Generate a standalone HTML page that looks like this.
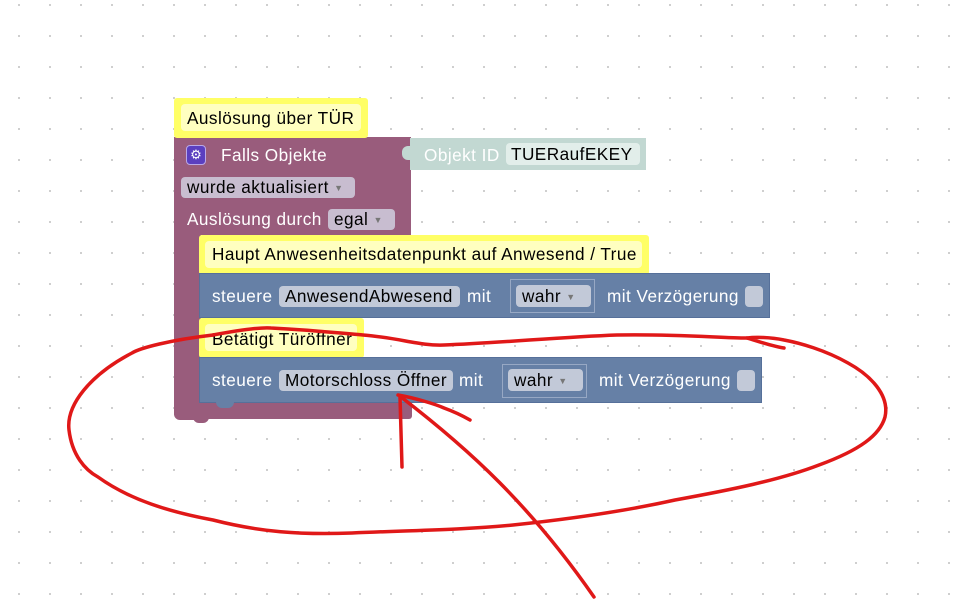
<!DOCTYPE html>
<html><head><meta charset="utf-8"><style>
html,body{margin:0;padding:0;width:978px;height:601px;overflow:hidden;background:#fff;font-family:"Liberation Sans",sans-serif;}
.a{position:absolute;box-sizing:border-box;}
.t{position:absolute;white-space:nowrap;font-size:17.2px;line-height:21px;letter-spacing:0.45px;}
.cm{background:#ffff66;border-radius:3px;}
.ci{background:#ffffc0;border-radius:4px;}
.pur{background:#995c7c;}
.blu{background:#6680a6;border:1px solid #56709a;}
.fld{background:#c8bdd0;border-radius:4px;color:#000;}
.bf{background:#c2c9d8;border-radius:4px;color:#000;}
.dd{font-size:9px;color:#777;vertical-align:2px;}
</style></head><body>
<svg class="a" style="left:0;top:0" width="978" height="601">
<defs><pattern id="g" x="0" y="0" width="31" height="31" patternUnits="userSpaceOnUse"><rect x="18" y="4" width="2" height="2" fill="#cfcfcf"/></pattern></defs>
<rect width="978" height="601" fill="url(#g)"/>
</svg>

<!-- purple block -->
<div class="a pur" style="left:174px;top:137px;width:237px;height:98px;"></div>
<div class="a pur" style="left:174px;top:230px;width:27px;height:190px;border-radius:0 0 0 6px;"></div>
<div class="a pur" style="left:174px;top:403px;width:238px;height:16px;border-radius:0 0 3px 6px;"></div>
<div class="a pur" style="left:193px;top:416px;width:16px;height:7px;border-radius:0 0 6px 6px;"></div>
<div class="a" style="left:186px;top:145px;width:20px;height:20px;background:#5b3fc0;border:1px solid #b9a8e8;border-radius:4px;color:#fff;font-size:13px;line-height:18px;text-align:center;">⚙</div>
<div class="t" style="left:221px;top:145px;color:#fff;">Falls Objekte</div>
<div class="a fld" style="left:181px;top:177px;width:174px;height:21px;"></div>
<div class="t" style="left:187px;top:177px;">wurde aktualisiert <span class="dd">▼</span></div>
<div class="t" style="left:187px;top:209px;color:#fff;">Auslösung durch</div>
<div class="a fld" style="left:328px;top:209px;width:67px;height:21px;"></div>
<div class="t" style="left:334px;top:209px;">egal <span class="dd">▼</span></div>

<!-- object id -->
<div class="a" style="left:410px;top:138px;width:236px;height:32px;background:#c2d8d2;"></div>
<div class="a" style="left:402px;top:146px;width:10px;height:14px;background:#c2d8d2;border-radius:6px 0 0 6px;"></div>
<div class="t" style="left:424px;top:145px;color:#fff;">Objekt ID</div>
<div class="a" style="left:506px;top:143px;width:134px;height:22px;background:#e2eeea;border-radius:4px;"></div>
<div class="t" style="left:511px;top:144px;">TUERaufEKEY</div>

<!-- comment 1 -->
<div class="a cm" style="left:174px;top:98px;width:194px;height:40px;"></div>
<div class="a ci" style="left:181px;top:104px;width:180px;height:27px;"></div>
<div class="t" style="left:187px;top:108px;">Auslösung über TÜR</div>

<!-- comment 2 -->
<div class="a cm" style="left:199px;top:235px;width:450px;height:40px;"></div>
<div class="a ci" style="left:205px;top:241px;width:437px;height:27px;"></div>
<div class="t" style="left:212px;top:244px;">Haupt Anwesenheitsdatenpunkt auf Anwesend / True</div>

<!-- blue 1 -->
<div class="a blu" style="left:199px;top:273px;width:571px;height:45px;"></div>
<div class="t" style="left:212px;top:286px;color:#fff;">steuere</div>
<div class="a bf" style="left:279px;top:286px;width:181px;height:21px;"></div>
<div class="t" style="left:285px;top:286px;">AnwesendAbwesend</div>
<div class="t" style="left:467px;top:286px;color:#fff;">mit</div>
<div class="a" style="left:510px;top:279px;width:85px;height:34px;border:1px solid #97a8c4;"></div>
<div class="a bf" style="left:516px;top:285px;width:75px;height:22px;"></div>
<div class="t" style="left:522px;top:286px;">wahr <span class="dd">▼</span></div>
<div class="t" style="left:607px;top:286px;color:#fff;">mit Verzögerung</div>
<div class="a bf" style="left:745px;top:286px;width:18px;height:21px;"></div>

<!-- comment 3 -->
<div class="a cm" style="left:199px;top:318px;width:165px;height:40px;"></div>
<div class="a ci" style="left:205px;top:324px;width:152px;height:27px;"></div>
<div class="t" style="left:212px;top:329px;">Betätigt Türöffner</div>

<!-- blue 2 -->
<div class="a blu" style="left:199px;top:357px;width:563px;height:46px;"></div>
<div class="a" style="left:216px;top:402px;width:18px;height:6px;background:#6680a6;border-radius:0 0 6px 6px;"></div>
<div class="t" style="left:212px;top:370px;color:#fff;">steuere</div>
<div class="a bf" style="left:279px;top:370px;width:174px;height:21px;"></div>
<div class="t" style="left:285px;top:370px;">Motorschloss Öffner</div>
<div class="t" style="left:459px;top:370px;color:#fff;">mit</div>
<div class="a" style="left:502px;top:364px;width:85px;height:34px;border:1px solid #97a8c4;"></div>
<div class="a bf" style="left:508px;top:369px;width:75px;height:22px;"></div>
<div class="t" style="left:514px;top:370px;">wahr <span class="dd">▼</span></div>
<div class="t" style="left:599px;top:370px;color:#fff;">mit Verzögerung</div>
<div class="a bf" style="left:737px;top:370px;width:18px;height:21px;"></div>

<!-- red annotation -->
<svg class="a" style="left:0;top:0" width="978" height="601">
<g fill="none" stroke="#e01818" stroke-width="3.5" stroke-linecap="round" stroke-linejoin="round">
<path d="M213,335 C170,340 140,348 132,353 C90,375 66,405 69,430 C72,455 85,470 98,477 C130,500 170,512 213,520 C260,532 300,535 352,533 C420,530 460,530 513,525 C580,518 630,510 675,500 C730,490 780,480 819,465 C860,450 880,435 885,417 C890,395 870,375 848,363 C825,350 800,343 784,340 C770,337 755,337 747,338 C760,342 775,347 784,348"/>
<path d="M213,335 C240,330 260,327 271,328 C310,330 340,333 363,335 C400,338 420,346 444,345 C500,343 560,337 617,335 C680,334 720,338 747,338"/>
<path d="M402,467 L400,397"/>
<path d="M594,597 C530,505 470,450 401,397"/>
<path d="M398,395 C415,398 435,404 444,408 C455,412 463,416 470,420"/>
</g>
</svg>
</body></html>
